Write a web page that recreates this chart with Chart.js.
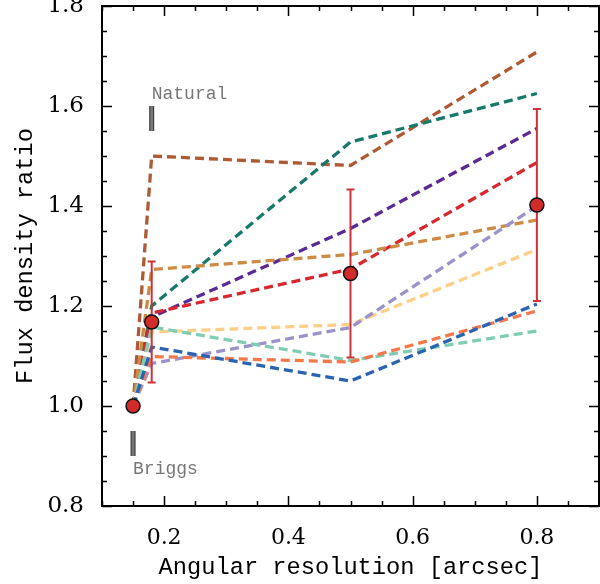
<!DOCTYPE html>
<html>
<head>
<meta charset="utf-8">
<script src="https://cdn.jsdelivr.net/npm/chart.js@4"></script>
<style>
  html, body { margin: 0; padding: 0; background: #fff; overflow: hidden; }
  canvas { display: block; }
</style>
</head>
<body>
<canvas id="ratioChart" width="600" height="584"></canvas>
<script>
// Angular resolutions (arcsec) at which the flux density was measured
const resolutions = [0.15, 0.18, 0.5, 0.8];

// Flux density ratio for each individual source (one dashed line each)
const srcBrown    = [1.0, 1.500, 1.481, 1.708];
const srcTeal     = [1.0, 1.200, 1.528, 1.625];
const srcPurple   = [1.0, 1.178, 1.355, 1.555];
const srcRed      = [1.0, 1.186, 1.274, 1.487];
const srcTan      = [1.0, 1.273, 1.303, 1.372];
const srcYellow   = [1.0, 1.148, 1.163, 1.313];
const srcLavender = [1.0, 1.085, 1.157, 1.400];
const srcMint     = [1.0, 1.158, 1.091, 1.150];
const srcSalmon   = [1.0, 1.099, 1.088, 1.190];
const srcBlue     = [1.0, 1.118, 1.050, 1.204];

// Mean ratio and its uncertainty
const meanRatio = [1.0, 1.168, 1.265, 1.402];
const meanError = [0, 0.121, 0.168, 0.192];

// Weighting markers
const naturalMark = [1.55, 1.60];
const briggsMark = [0.90, 0.95];

const monoFont = "'Liberation Mono', 'Courier New', monospace";

const toPoints = vals => vals.map((v, i) => ({ x: resolutions[i], y: v }));

function sourceLine(vals, color) {
    return {
        type: 'line',
        data: toPoints(vals),
        borderColor: color,
        borderWidth: 3.3,
        borderDash: [9, 5],
        borderCapStyle: 'butt',
        pointRadius: 0,
        tension: 0,
        fill: false
    };
}

function markBar(x, vals, color, width) {
    return {
        type: 'line',
        data: vals.map(v => ({ x: x, y: v })),
        borderColor: color,
        borderWidth: width,
        borderCapStyle: 'butt',
        pointRadius: 0
    };
}

const isMajor = v => Math.abs(v / 0.2 - Math.round(v / 0.2)) < 1e-6;

// Inward ticks on all four sides plus the box
const frameTicks = {
    id: 'frameTicks',
    afterDraw(chart) {
        const { ctx, chartArea: a, scales: { x, y } } = chart;
        ctx.save();
        ctx.strokeStyle = '#000';
        ctx.lineWidth = 1.5;
        ctx.beginPath();
        x.ticks.forEach(t => {
            const px = Math.round(x.getPixelForValue(t.value)) + 0.5;
            const len = isMajor(t.value) ? 10 : 5;
            ctx.moveTo(px, a.bottom); ctx.lineTo(px, a.bottom - len);
            ctx.moveTo(px, a.top); ctx.lineTo(px, a.top + len);
        });
        y.ticks.forEach(t => {
            const py = Math.round(y.getPixelForValue(t.value)) + 0.5;
            const len = isMajor(t.value) ? 10 : 5;
            ctx.moveTo(a.left, py); ctx.lineTo(a.left + len, py);
            ctx.moveTo(a.right, py); ctx.lineTo(a.right - len, py);
        });
        ctx.stroke();
        ctx.lineWidth = 2;
        ctx.strokeRect(a.left, a.top, a.width, a.height);
        ctx.restore();
    }
};

// Error bars on the mean points, drawn just under the markers
const errorBars = {
    id: 'errorBars',
    beforeDatasetDraw(chart, args) {
        if (args.index !== 0) return;
        const { ctx, scales: { x, y } } = chart;
        ctx.save();
        ctx.strokeStyle = '#d0323a';
        ctx.lineWidth = 2;
        meanRatio.forEach((v, i) => {
            if (!meanError[i]) return;
            const px = x.getPixelForValue(resolutions[i]);
            const top = y.getPixelForValue(v + meanError[i]);
            const bot = y.getPixelForValue(v - meanError[i]);
            ctx.beginPath();
            ctx.moveTo(px, top); ctx.lineTo(px, bot);
            ctx.moveTo(px - 4, top); ctx.lineTo(px + 4, top);
            ctx.moveTo(px - 4, bot); ctx.lineTo(px + 4, bot);
            ctx.stroke();
        });
        ctx.restore();
    }
};

// "Natural" / "Briggs" captions
const captions = {
    id: 'captions',
    afterDatasetsDraw(chart) {
        const { ctx, scales: { x, y } } = chart;
        ctx.save();
        ctx.fillStyle = '#777';
        ctx.font = '18px ' + monoFont;
        ctx.textAlign = 'left';
        ctx.textBaseline = 'middle';
        ctx.fillText('Natural', x.getPixelForValue(0.18), y.getPixelForValue(1.624));
        ctx.fillText('Briggs', x.getPixelForValue(0.15), y.getPixelForValue(0.873));
        ctx.restore();
    }
};

Chart.defaults.font.family = "'DejaVu Serif', serif";
Chart.defaults.color = '#000';

new Chart(document.getElementById('ratioChart'), {
    type: 'scatter',
    data: {
        datasets: [
            {
                type: 'scatter',
                data: toPoints(meanRatio),
                backgroundColor: '#d22b2b',
                borderColor: '#111',
                borderWidth: 1.5,
                pointRadius: 7
            },
            markBar(0.18, naturalMark, '#777', 3),
            markBar(0.18, naturalMark, '#333', 5),
            markBar(0.15, briggsMark, '#777', 3),
            markBar(0.15, briggsMark, '#333', 5),
            sourceLine(srcBlue, '#2a63b0'),
            sourceLine(srcSalmon, '#f4794a'),
            sourceLine(srcMint, '#80cdb5'),
            sourceLine(srcLavender, '#9a92c9'),
            sourceLine(srcYellow, '#fecf86'),
            sourceLine(srcTan, '#cc8c45'),
            sourceLine(srcRed, '#d6282e'),
            sourceLine(srcPurple, '#5a2a94'),
            sourceLine(srcTeal, '#16796a'),
            sourceLine(srcBrown, '#ad5a35')
        ]
    },
    options: {
        responsive: false,
        animation: false,
        layout: { autoPadding: false, padding: { top: 6, right: 1, left: 0, bottom: 0 } },
        plugins: {
            legend: { display: false },
            tooltip: { enabled: false }
        },
        scales: {
            x: {
                type: 'linear',
                min: 0.1,
                max: 0.9,
                grid: { display: false },
                border: { display: false },
                ticks: {
                    stepSize: 0.05,
                    autoSkip: false,
                    maxRotation: 0,
                    padding: 11,
                    font: { size: 22 },
                    callback: v => isMajor(v) ? v.toFixed(1) : ''
                },
                title: {
                    display: true,
                    text: 'Angular resolution [arcsec]',
                    font: { family: monoFont, size: 23.7 },
                    padding: { top: 4, bottom: 2 }
                },
                afterFit: s => {
                    s.height = 78;
                    s.paddingLeft = 0;
                    s.paddingRight = 0;
                }
            },
            y: {
                min: 0.8,
                max: 1.8,
                grid: { display: false },
                border: { display: false },
                ticks: {
                    stepSize: 0.05,
                    autoSkip: false,
                    padding: 10,
                    font: { size: 23 },
                    callback: v => isMajor(v) ? v.toFixed(1) : ''
                },
                title: {
                    display: true,
                    text: 'Flux density ratio',
                    font: { family: monoFont, size: 23.7 },
                    padding: { top: 12, bottom: 0 }
                },
                afterFit: s => {
                    s.width = 102;
                    s.paddingTop = 0;
                    s.paddingBottom = 0;
                }
            }
        }
    },
    plugins: [frameTicks, errorBars, captions]
});
</script>
</body>
</html>
